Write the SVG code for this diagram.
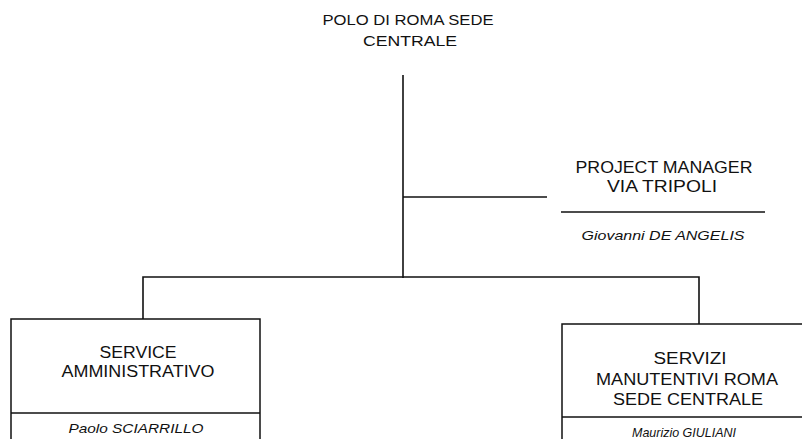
<svg xmlns="http://www.w3.org/2000/svg" width="802" height="439" viewBox="0 0 802 439">
<style>
.t{font-family:"Liberation Sans",Arial,sans-serif;font-size:16px;fill:#111;text-anchor:middle}
.s{font-size:15px}
.n{font-family:"Liberation Sans",Arial,sans-serif;font-size:13px;font-style:italic;fill:#111;text-anchor:middle}
.l{stroke:#111;stroke-width:1.6;fill:none}
.b{stroke:#111;stroke-width:1.5;fill:#fff}
</style>
<rect width="802" height="439" fill="#fff"/>
<g id="connectors">
<line class="l" x1="403" y1="75" x2="403" y2="278"/>
<line class="l" x1="403" y1="197" x2="547" y2="197"/>
<polyline class="l" points="143,320 143,277 699,277 699,324"/>
</g>
<g id="root">
<text class="t s" x="408" y="25" textLength="171" lengthAdjust="spacingAndGlyphs">POLO DI ROMA SEDE</text>
<text class="t s" x="410" y="46" textLength="94" lengthAdjust="spacingAndGlyphs">CENTRALE</text>
</g>
<g id="pm">
<text class="t" x="664" y="173" textLength="177" lengthAdjust="spacingAndGlyphs">PROJECT MANAGER</text>
<text class="t" x="662" y="192" textLength="110" lengthAdjust="spacingAndGlyphs">VIA TRIPOLI</text>
<line class="l" x1="561" y1="212" x2="765" y2="212"/>
<text class="n" x="663" y="240" textLength="163" lengthAdjust="spacingAndGlyphs">Giovanni DE ANGELIS</text>
</g>
<g id="service">
<rect class="b" x="11" y="319" width="249" height="125"/>
<line class="l" x1="11" y1="413" x2="260" y2="413"/>
<text class="t" x="138" y="358" textLength="77" lengthAdjust="spacingAndGlyphs">SERVICE</text>
<text class="t" x="138" y="377" textLength="153" lengthAdjust="spacingAndGlyphs">AMMINISTRATIVO</text>
<text class="n" x="136" y="433" textLength="135" lengthAdjust="spacingAndGlyphs">Paolo SCIARRILLO</text>
</g>
<g id="servizi">
<rect class="b" x="562" y="324" width="245" height="125"/>
<line class="l" x1="562" y1="417" x2="802" y2="417"/>
<text class="t" x="690" y="364" textLength="73" lengthAdjust="spacingAndGlyphs">SERVIZI</text>
<text class="t" x="687" y="385" textLength="182" lengthAdjust="spacingAndGlyphs">MANUTENTIVI ROMA</text>
<text class="t" x="688" y="405" textLength="150" lengthAdjust="spacingAndGlyphs">SEDE CENTRALE</text>
<text class="n" x="684" y="437" textLength="104" lengthAdjust="spacingAndGlyphs">Maurizio GIULIANI</text>
</g>
</svg>
